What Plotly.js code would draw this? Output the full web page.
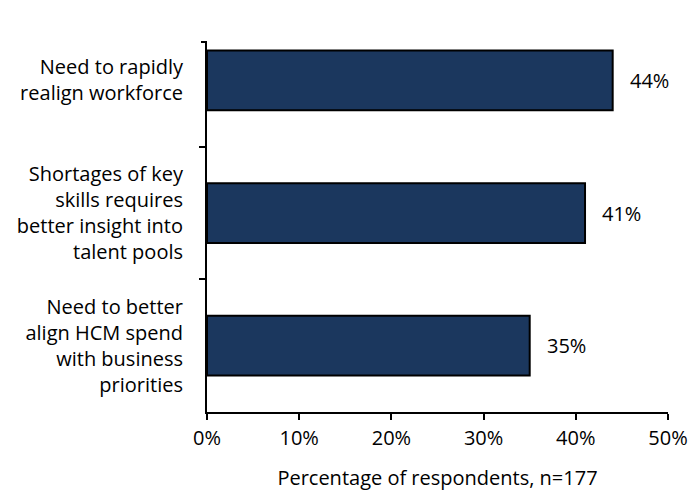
<!DOCTYPE html>
<html>
<head>
<meta charset="utf-8">
<script src="https://cdn.plot.ly/plotly-3.0.1.min.js"></script>
<style>html,body{margin:0;padding:0;background:#fff;}#chart{width:691px;height:491px;}</style>
</head>
<body>
<div id="chart"></div>
<script>
const categories = [
  "Need to rapidly<br>realign workforce",
  "Shortages of key<br>skills requires<br>better insight into<br>talent pools",
  "Need to better<br>align HCM spend<br>with business<br>priorities"
];
const values = [44, 41, 35];
const valueLabels = ["44%", "41%", "35%"];
const xTickVals = [0, 10, 20, 30, 40, 50];
const xTickText = ["0%", "10%", "20%", "30%", "40%", "50%"];
const xTitle = "Percentage of respondents, n=177";

const FONT = "'Open Sans', sans-serif";
const FS = 20;

const trace = {
  type: "bar",
  orientation: "h",
  x: values,
  y: categories,
  marker: {color: "#1B375E", line: {color: "#000", width: 2}},
  width: 0.45,
  hoverinfo: "none"
};

const annotations = values.map((v, i) => ({
  x: v, y: categories[i], xref: "x", yref: "y",
  text: valueLabels[i], showarrow: false,
  xanchor: "left", yanchor: "middle", xshift: 15,
  font: {family: FONT, size: FS, color: "#000"}
}));

const layout = {
  width: 691, height: 491,
  margin: {l: 207, r: 23, t: 42, b: 79},
  paper_bgcolor: "#fff", plot_bgcolor: "#fff",
  showlegend: false,
  font: {family: FONT, size: FS, color: "#000"},
  xaxis: {
    range: [0, 50],
    tickvals: xTickVals, ticktext: xTickText,
    ticks: "outside", ticklen: 6, tickwidth: 2, tickcolor: "#000",
    showline: true, linecolor: "#000", linewidth: 2,
    showgrid: false, zeroline: false,
    ticklabelstandoff: 1,
    tickfont: {family: FONT, size: FS},
    title: {text: xTitle, font: {family: FONT, size: FS}, standoff: 24}
  },
  yaxis: {
    type: "category",
    categoryorder: "array", categoryarray: categories,
    range: [2.5, -0.29],
    ticks: "outside", tickson: "boundaries", ticklen: 6, tickwidth: 2, tickcolor: "#000",
    showline: true, linecolor: "#000", linewidth: 2,
    showgrid: false, zeroline: false,
    ticklabelstandoff: 18,
    tickfont: {family: FONT, size: FS}
  },
  annotations: annotations,
  shapes: [
    {type: "line", xref: "paper", yref: "paper", x0: -0.013, x1: 0, y0: 1, y1: 1,
     line: {color: "#000", width: 2}}
  ]
};

Plotly.newPlot("chart", [trace], layout, {displayModeBar: false, staticPlot: true});
</script>
</body>
</html>
